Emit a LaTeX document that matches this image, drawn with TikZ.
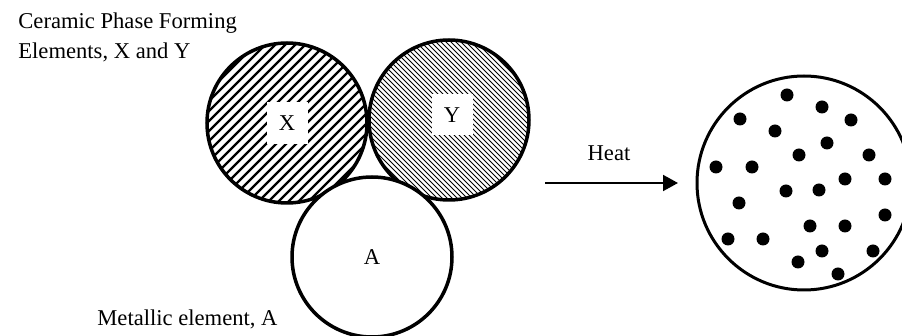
\documentclass[tikz,border=0pt]{standalone}
\usepackage{fontspec}
\setmainfont{Liberation Serif}
\usetikzlibrary{arrows.meta}
\definecolor{inkblack}{HTML}{000000}

\tikzset{
  grain/.style={circle, draw=inkblack, line width=1.75pt, minimum size=80pt, inner sep=0pt},
  tag/.style={fill=white, inner sep=0pt, minimum width=20.5pt, minimum height=21pt},
  phase/.style={fill=inkblack}
}

\begin{document}
\begin{tikzpicture}[x=0.5pt, y=-0.5pt, font=\fontsize{11.3}{15}\selectfont]
  \useasboundingbox (0,0) rectangle (902,336);
  % element X, coarse hatching
  \begin{scope}
    \clip (287,123) circle (80);
    \foreach \d in {-200,-190,...,200}
      \draw[inkblack, line width=1.2pt] (187+\d,223) -- (387+\d,23);
  \end{scope}
  \node[grain] (xel) at (287,123) {};
  \node[tag] (xlab) at (287,123) {X};
  % element Y, fine hatching
  \begin{scope}
    \clip (449,120) circle (79);
    \foreach \d in {-200,-195,...,200}
      \draw[inkblack, line width=0.5pt] (349+\d,20) -- (549+\d,220);
  \end{scope}
  \node[grain] (yel) at (449,120) {};
  \node[tag, minimum height=20.5pt] (ylab) at (452,115) {Y};
  % metallic element
  \node[grain, fill=white] (ael) at (372,257) {A};
  \node[anchor=north west, align=left, inner sep=0pt] (ceramic) at (18,12)
    {Ceramic Phase Forming\\Elements, X and Y};
  \node[anchor=base west, inner sep=0pt] (metal) at (97,326) {Metallic element, A};
  % heating step
  \coordinate (heatfrom) at (545,183);
  \coordinate (heatto) at (678,183);
  \draw[-{Triangle[length=7.5pt, width=8pt]}, inkblack, line width=1pt]
    (heatfrom) -- (heatto);
  \node[anchor=base, inner sep=0pt] (heat) at (609,161) {Heat};
  % product with dispersed ceramic phase
  \node[grain, line width=1.5pt, minimum size=107pt] (prod) at (804,183) {};
  \foreach \p in {(787,95),(822,107),(740,119),(851,120),(775,131),(827,143),
                  (799,155),(869,155),(716,167),(752,167),(845,179),(885,179),
                  (786,191),(819,190),(739,203),(885,215),(810,226),(845,226),
                  (728,239),(763,239),(822,251),(873,251),(798,262),(838,274)}
    \fill[phase] \p circle (6.5);
\end{tikzpicture}
\end{document}
